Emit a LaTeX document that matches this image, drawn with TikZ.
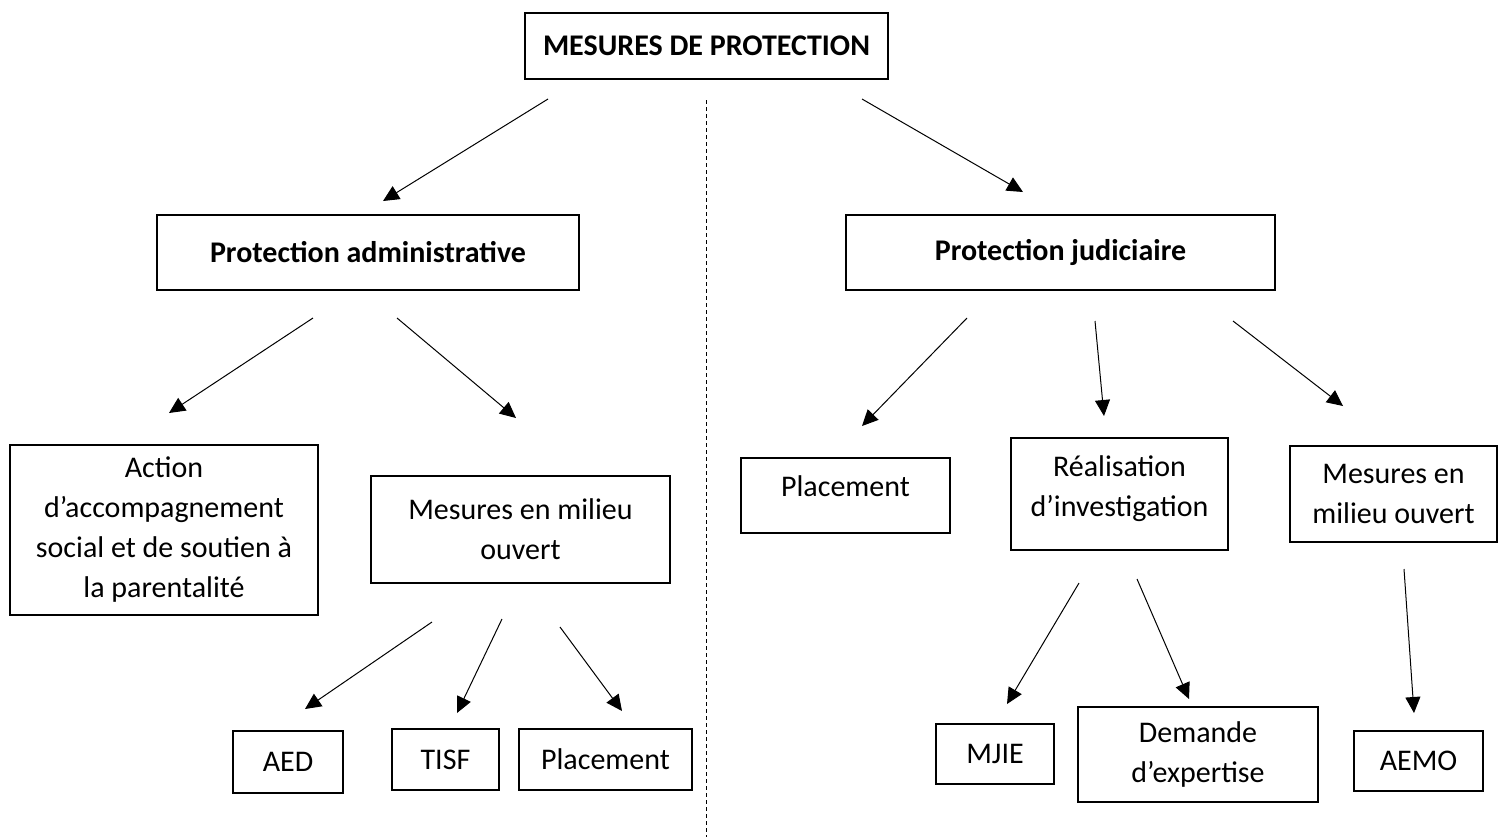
\documentclass[tikz,border=0pt]{standalone}
\usepackage{fontspec}
\setmainfont{Carlito}
\usetikzlibrary{arrows.meta,positioning}

\begin{document}
\begin{tikzpicture}[x=0.5pt,y=-0.5pt,% one unit = one pixel of the sketch
        font=\fontsize{15}{20}\selectfont,
        cadre/.style={draw,line width=0.9pt,inner sep=0pt,align=center},% boxes
        fleche/.style={-{Triangle[length=8pt,width=7.5pt]},line width=0.5pt}]
\useasboundingbox (0,0) rectangle (1503,837);

% top level
\node[cadre,minimum width=181.5pt,minimum height=33pt,font=\fontsize{15}{20}\selectfont\bfseries] (titre) at (706.5,46) {MESURES DE PROTECTION};
\node[cadre,minimum width=211pt,minimum height=37.5pt,font=\fontsize{15}{20}\selectfont\bfseries] (admin) at (368,252.5) {Protection administrative};
\node[cadre,minimum width=214.5pt,minimum height=37.5pt,font=\fontsize{15}{20}\selectfont\bfseries] (judic) at (1060.5,252.5) {Protection judiciaire};

% administrative side
\node[cadre,minimum width=154pt,minimum height=85pt] (action) at (164,530) {Action\\d’accompagnement\\social et de soutien à\\la parentalité};
\node[cadre,minimum width=149.5pt,minimum height=53.5pt] (milieuA) at (520.5,529.5) {Mesures en milieu\\ouvert};
\node[cadre,minimum width=55pt,minimum height=31pt] (aed) at (288,762) {AED};
\node[cadre,minimum width=53.5pt,minimum height=30.5pt] (tisf) at (445.5,759.5) {TISF};
\node[cadre,minimum width=86.5pt,minimum height=30.5pt] (placeA) at (605.5,759.5) {Placement};

% judicial side
\node[cadre,minimum width=104.5pt,minimum height=37.5pt,text depth=9pt] (placeJ) at (845.5,495.5) {Placement};
\node[cadre,minimum width=108.5pt,minimum height=56pt,text depth=8pt] (realis) at (1119.5,494) {Réalisation\\d’investigation};
\node[cadre,minimum width=103.5pt,minimum height=48pt] (milieuJ) at (1393.5,494) {Mesures en\\milieu ouvert};
\node[cadre,minimum width=59pt,minimum height=30pt,text depth=0pt] (mjie) at (995,754) {MJIE};
\node[cadre,minimum width=120pt,minimum height=47.5pt] (demande) at (1198,754.5) {Demande\\d’expertise};
\node[cadre,minimum width=64.5pt,minimum height=30pt] (aemo) at (1418.5,761) {AEMO};

% separating line
\coordinate (sep-haut) at (706,100);
\coordinate (sep-bas) at (706,837);
\draw[line width=0.5pt,dash pattern=on 2pt off 1.5pt] (sep-haut) -- (sep-bas);

% floating arrows: start and end of each
\foreach \n/\xa/\ya/\xb/\yb in {1/548/99/383/201, 2/862/99/1023/192,
        3/313/318/169/413, 4/397/318/516/418,
        5/967/318/862/426, 6/1095/321/1104/416, 7/1233/321/1343/406,
        8/432/622/305/709, 9/502/619/457/713, 10/560/627/622/711,
        11/1079/583/1007/704, 12/1137/579/1189/699, 13/1404/569/1414/713}{
\coordinate (d\n) at (\xa,\ya);
\coordinate (f\n) at (\xb,\yb);
\draw[fleche] (d\n) -- (f\n);
}

\end{tikzpicture}
\end{document}
